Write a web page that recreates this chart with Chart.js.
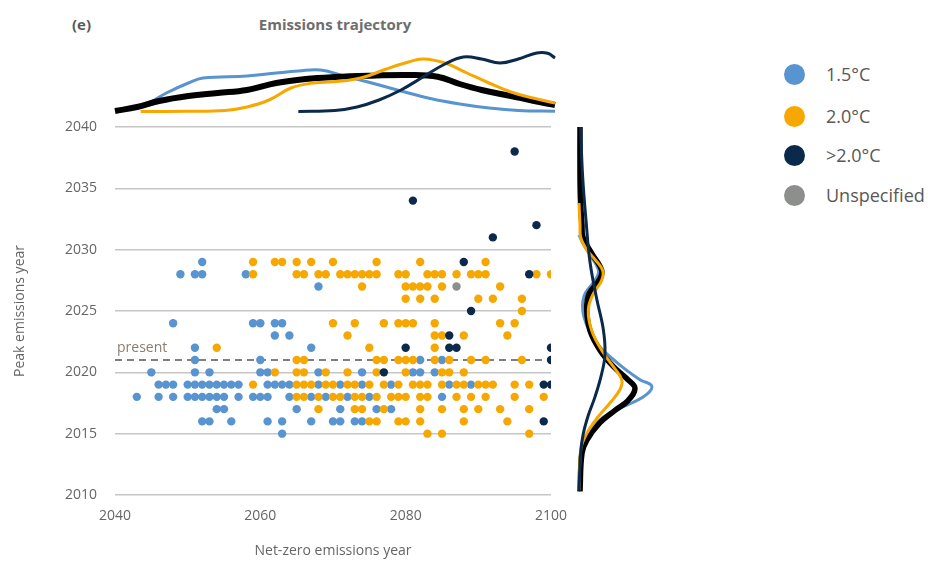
<!DOCTYPE html>
<html>
<head>
<meta charset="utf-8">
<script src="https://cdn.jsdelivr.net/npm/chart.js@4/dist/chart.umd.min.js"></script>
<style>
  html, body { margin: 0; padding: 0; background: #ffffff; }
  #wrap { position: relative; width: 928px; height: 561px; overflow: hidden; font-family: 'Open Sans', sans-serif; }
  canvas { position: absolute; }
  #panel { position: absolute; left: 72px; top: 14px; font-size: 15px; font-weight: 700; color: #5a5a5a; }
  #title { position: absolute; left: 235px; width: 200px; top: 14px; text-align: center; font-size: 15px; font-weight: 700; color: #6e6e6e; }
  .lg { position: absolute; left: 784px; height: 22px; display: flex; align-items: center; font-size: 18px; color: #585858; }
  .lg span.dot { display: inline-block; width: 21px; height: 21px; border-radius: 50%; margin-right: 21px; }
</style>
</head>
<body>
<div id="wrap">
  <div id="panel">(e)</div>
  <div id="title">Emissions trajectory</div>
  <canvas id="top" width="580" height="127" style="left:0;top:0;"></canvas>
  <canvas id="main" width="580" height="561" style="left:0;top:0;"></canvas>
  <canvas id="right" width="120" height="400" style="left:560px;top:110px;"></canvas>
  <div id="legend"></div>
</div>
<script>
// ---------------- DATA ----------------
const categories = ['1.5°C', '2.0°C', '>2.0°C', 'Unspecified'];
const xTicks = [2040, 2060, 2080, 2100];
const yTicks = [2010, 2015, 2020, 2025, 2030, 2035, 2040];
const presentYear = 2021;

// [net-zero emissions year, peak emissions year]
const pts15 = [
  [2052,2029],
  [2049,2028],[2051,2028],[2052,2028],[2058,2028],
  [2068,2027],
  [2048,2024],[2059,2024],[2060,2024],[2062,2024],[2063,2024],
  [2062,2023],[2064,2023],
  [2051,2022],[2067,2022],
  [2051,2021],[2060,2021],[2082,2021],[2085,2021],
  [2045,2020],[2051,2020],[2053,2020],[2060,2020],[2061,2020],[2068,2020],[2074,2020],[2081,2020],[2082,2020],[2084,2020],
  [2046,2019],[2047,2019],[2048,2019],[2050,2019],[2051,2019],[2052,2019],[2053,2019],[2054,2019],[2055,2019],[2056,2019],[2057,2019],
  [2061,2019],[2062,2019],[2063,2019],[2064,2019],[2068,2019],[2071,2019],[2074,2019],[2078,2019],[2086,2019],[2089,2019],
  [2043,2018],[2046,2018],[2048,2018],[2050,2018],[2051,2018],[2052,2018],[2053,2018],[2054,2018],[2055,2018],[2057,2018],
  [2059,2018],[2060,2018],[2061,2018],[2064,2018],[2067,2018],[2069,2018],[2072,2018],[2075,2018],[2085,2018],
  [2054,2017],[2055,2017],[2065,2017],[2071,2017],[2076,2017],[2078,2017],
  [2052,2016],[2053,2016],[2056,2016],[2061,2016],[2063,2016],[2067,2016],[2070,2016],[2071,2016],[2073,2016],[2074,2016],
  [2063,2015]
];
const pts20 = [
  [2059,2029],[2062,2029],[2063,2029],[2065,2029],[2067,2029],[2070,2029],[2076,2029],[2082,2029],[2091,2029],
  [2059,2028],[2065,2028],[2066,2028],[2068,2028],[2069,2028],[2071,2028],[2072,2028],[2073,2028],[2074,2028],[2075,2028],[2076,2028],
  [2079,2028],[2080,2028],[2083,2028],[2084,2028],[2085,2028],[2087,2028],[2089,2028],[2090,2028],[2091,2028],[2098,2028],[2100,2028],
  [2074,2027],[2080,2027],[2081,2027],[2082,2027],[2083,2027],[2085,2027],[2093,2027],
  [2080,2026],[2082,2026],[2084,2026],[2090,2026],[2092,2026],[2096,2026],
  [2096,2025],
  [2070,2024],[2073,2024],[2077,2024],[2079,2024],[2080,2024],[2081,2024],[2084,2024],[2093,2024],[2095,2024],
  [2072,2023],[2084,2023],[2085,2023],[2088,2023],[2094,2023],
  [2054,2022],[2075,2022],[2084,2022],
  [2065,2021],[2066,2021],[2076,2021],[2077,2021],[2079,2021],[2080,2021],[2081,2021],[2084,2021],[2086,2021],[2089,2021],[2091,2021],[2096,2021],
  [2062,2020],[2065,2020],[2066,2020],[2069,2020],[2072,2020],[2076,2020],[2080,2020],[2085,2020],[2086,2020],[2088,2020],
  [2059,2019],[2065,2019],[2066,2019],[2067,2019],[2069,2019],[2070,2019],[2072,2019],[2073,2019],[2075,2019],[2077,2019],[2079,2019],
  [2081,2019],[2082,2019],[2083,2019],[2085,2019],[2087,2019],[2088,2019],[2090,2019],[2091,2019],[2092,2019],[2095,2019],[2097,2019],
  [2065,2018],[2066,2018],[2068,2018],[2070,2018],[2071,2018],[2073,2018],[2074,2018],[2076,2018],[2078,2018],[2079,2018],[2080,2018],
  [2082,2018],[2083,2018],[2087,2018],[2089,2018],[2091,2018],[2095,2018],[2099,2018],
  [2068,2017],[2073,2017],[2074,2017],[2077,2017],[2082,2017],[2085,2017],[2088,2017],[2090,2017],[2093,2017],[2097,2017],
  [2075,2016],[2076,2016],[2079,2016],[2080,2016],[2082,2016],[2088,2016],[2094,2016],
  [2083,2015],[2085,2015],[2097,2015]
];
const ptsAbove2 = [
  [2095,2038],[2081,2034],[2098,2032],[2092,2031],[2088,2029],[2097,2028],[2089,2025],[2086,2023],
  [2080,2022],[2086,2022],[2087,2022],[2100,2022],[2100,2021],[2077,2020],[2099,2019],[2100,2019],[2099,2016]
];
const ptsUnspec = [[2087,2027]];

// Marginal distribution of net-zero year (top panel): [year, relative density]
const topDens15 = [[2040,2.5],[2044,8],[2047,20],[2050,30],[2052,35],[2058,37],[2062,40],[2065,42],[2068,43],[2071,37.5],[2075,30],[2079,22],[2083,14.5],[2087,9],[2091,5],[2095,2.5],[2100,1.7]];
const topDens20 = [[2043.5,1.5],[2050,1.7],[2055,2.5],[2058,6],[2061,13],[2064,25],[2067,30],[2071,32],[2074,36],[2077,44],[2080,51],[2082,54],[2085,50],[2088,40],[2091,30],[2094,21],[2097,15],[2100,10]];
const topDensAbove2 = [[2065,1.5],[2070,2.5],[2073,6],[2076,13],[2079,23],[2082,36],[2085,49],[2087.5,56],[2090,54],[2092.5,50],[2095,54],[2097.5,60],[2099,59.7],[2100,55]];
const topDensAll = [[2040,2],[2043,6],[2046,12],[2050,17],[2054,20],[2058,23],[2062,30],[2066,34],[2070,36],[2075,37.3],[2080,38],[2084,36.3],[2087,29],[2090,23],[2094,17],[2097,12.3],[2100,8]];

// Marginal distribution of peak year (right panel): [year, relative density]
const rightDens15 = [[2031.2,0],[2030.5,4],[2029.7,10],[2028.3,19.5],[2027.5,16],[2026.2,5],[2024.5,5],[2022.4,17.7],[2020.8,38],[2019.4,61],[2018.9,72.7],[2018.2,67.7],[2017.5,52.7],[2016.7,31],[2015.9,17.7],[2014.8,7.7],[2013.5,1.7],[2012.5,0.5]];
const rightDens20 = [[2033.8,0],[2032,1],[2031,1.7],[2030,7.7],[2029.2,16],[2028.3,23.7],[2027.5,22.7],[2026.4,14.3],[2025.1,9.3],[2023.4,12.7],[2021.8,22.7],[2020.5,34],[2019.4,42.7],[2018.6,41],[2017.5,31],[2016.4,19.3],[2015,7.7],[2013.7,1.7],[2010.4,0]];
const rightDensAbove2 = [[2040,1.5],[2035.9,3.7],[2032.4,7],[2029,11],[2026,17.7],[2023.5,24.3],[2021.5,26],[2019.9,22.7],[2018,16],[2016.5,9.3],[2015,4.3],[2013.5,1.7],[2010.3,0]];
const rightDensAll = [[2040,1],[2036,1],[2034,1.5],[2032,3],[2031,4],[2029.7,12.7],[2028.3,22.7],[2027.5,20],[2026.4,10],[2025.1,7.7],[2023.4,11],[2021.8,21],[2020.5,34],[2019.4,49],[2018.7,56],[2017.7,49],[2016.9,36],[2015.9,21],[2014.5,8],[2013.4,3],[2010.3,1]];

// ---------------- STYLE ----------------
const BLUE = '#5794d0';
const ORANGE = '#f7a800';
const NAVY = '#0b2a4b';
const GRAY = '#8c8f8c';
const BLACK = '#000000';
const TXT = '#666666';
const FONT = "'Open Sans', sans-serif";

const toXY = arr => arr.map(([x, y]) => ({ x, y }));
const toYX = arr => arr.map(([y, x]) => ({ x, y }));

// legend
const legendItems = [[categories[0], BLUE, 63], [categories[1], ORANGE, 105], [categories[2], NAVY, 144], [categories[3], GRAY, 184]];
const lg = document.getElementById('legend');
legendItems.forEach(([t, c, top]) => {
  const d = document.createElement('div');
  d.className = 'lg';
  d.style.top = top + 'px';
  d.innerHTML = '<span class="dot" style="background:' + c + '"></span><span>' + t + '</span>';
  lg.appendChild(d);
});

const baseOpts = {
  responsive: false,
  animation: false,
  events: [],
  plugins: { legend: { display: false }, tooltip: { enabled: false } }
};

// ---------------- MAIN SCATTER ----------------
const presentLabel = {
  id: 'presentLabel',
  afterDatasetsDraw(chart) {
    const { ctx, scales } = chart;
    const x = scales.x.getPixelForValue(scales.x.min) + 2;
    const y = scales.y.getPixelForValue(presentYear) - 8;
    ctx.save();
    ctx.font = '14px ' + FONT;
    ctx.fillStyle = '#8a7c70';
    ctx.textAlign = 'left';
    ctx.textBaseline = 'alphabetic';
    ctx.fillText('present', x, y);
    ctx.restore();
  }
};

new Chart(document.getElementById('main'), {
  type: 'scatter',
  data: {
    datasets: [
      { label: categories[2], data: toXY(ptsAbove2), backgroundColor: NAVY, order: 0 },
      { label: categories[3], data: toXY(ptsUnspec), backgroundColor: GRAY, order: 1 },
      { label: categories[1], data: toXY(pts20), backgroundColor: ORANGE, order: 2 },
      { label: categories[0], data: toXY(pts15), backgroundColor: BLUE, order: 3 },
      { type: 'line', label: 'present', data: [{ x: xTicks[0], y: presentYear }, { x: xTicks[xTicks.length - 1], y: presentYear }],
        borderColor: '#555555', borderWidth: 1.6, borderDash: [7, 5], pointRadius: 0, order: 10 }
    ]
  },
  options: {
    ...baseOpts,
    layout: { padding: { top: 127, right: 25, left: 0, bottom: 0 } },
    elements: { point: { radius: 4.2, borderWidth: 0, hoverRadius: 4.2 } },
    scales: {
      x: {
        type: 'linear', min: xTicks[0], max: xTicks[xTicks.length - 1],
        afterBuildTicks: s => { s.ticks = xTicks.map(v => ({ value: v })); },
        grid: { display: false, drawTicks: false },
        border: { display: false },
        ticks: { color: TXT, font: { family: FONT, size: 14 }, padding: 13, callback: v => String(v), maxRotation: 0 },
        title: { display: true, text: 'Net-zero emissions year', color: TXT, font: { family: FONT, size: 14 }, padding: { top: 0, bottom: 2 } },
        afterFit: s => { s.height = 66; }
      },
      y: {
        type: 'linear', min: yTicks[0], max: yTicks[yTicks.length - 1],
        afterBuildTicks: s => { s.ticks = yTicks.map(v => ({ value: v })); },
        grid: { color: '#c6c6c6', lineWidth: 1.6, drawTicks: false },
        border: { display: false },
        ticks: { color: TXT, font: { family: FONT, size: 14 }, padding: 18, callback: v => String(v) },
        title: { display: true, text: 'Peak emissions year', color: TXT, font: { family: FONT, size: 14 }, padding: { top: 12, bottom: 0 } },
        afterFit: s => { s.width = 115; }
      }
    }
  },
  plugins: [presentLabel]
});

// ---------------- TOP MARGINAL ----------------
const lineDs = (label, arr, color, width, conv) => ({
  label, data: conv(arr), borderColor: color, borderWidth: width, showLine: true,
  pointRadius: 0, tension: 0.4, fill: false, clip: false, backgroundColor: color
});

new Chart(document.getElementById('top'), {
  type: 'scatter',
  data: {
    datasets: [
      lineDs(categories[2], topDensAbove2, NAVY, 3, toXY),
      lineDs(categories[1], topDens20, ORANGE, 3, toXY),
      lineDs('All', topDensAll, BLACK, 6, toXY),
      lineDs(categories[0], topDens15, BLUE, 3, toXY)
    ]
  },
  options: {
    ...baseOpts,
    layout: { padding: { top: 43, bottom: 14, left: 115, right: 25 } },
    scales: {
      x: { type: 'linear', display: false, min: xTicks[0], max: xTicks[xTicks.length - 1] },
      y: { type: 'linear', display: false, min: 0, max: 70 }
    }
  }
});

// ---------------- RIGHT MARGINAL ----------------
new Chart(document.getElementById('right'), {
  type: 'scatter',
  data: {
    datasets: [
      lineDs(categories[2], rightDensAbove2, NAVY, 3, toYX),
      lineDs(categories[1], rightDens20, ORANGE, 3, toYX),
      lineDs('All', rightDensAll, BLACK, 5.5, toYX),
      lineDs(categories[0], rightDens15, BLUE, 3, toYX)
    ]
  },
  options: {
    ...baseOpts,
    layout: { padding: { top: 17, bottom: 15, left: 19, right: 21 } },
    scales: {
      x: { type: 'linear', display: false, min: 0, max: 80 },
      y: { type: 'linear', display: false, min: yTicks[0], max: yTicks[yTicks.length - 1] }
    }
  }
});
</script>
</body>
</html>
